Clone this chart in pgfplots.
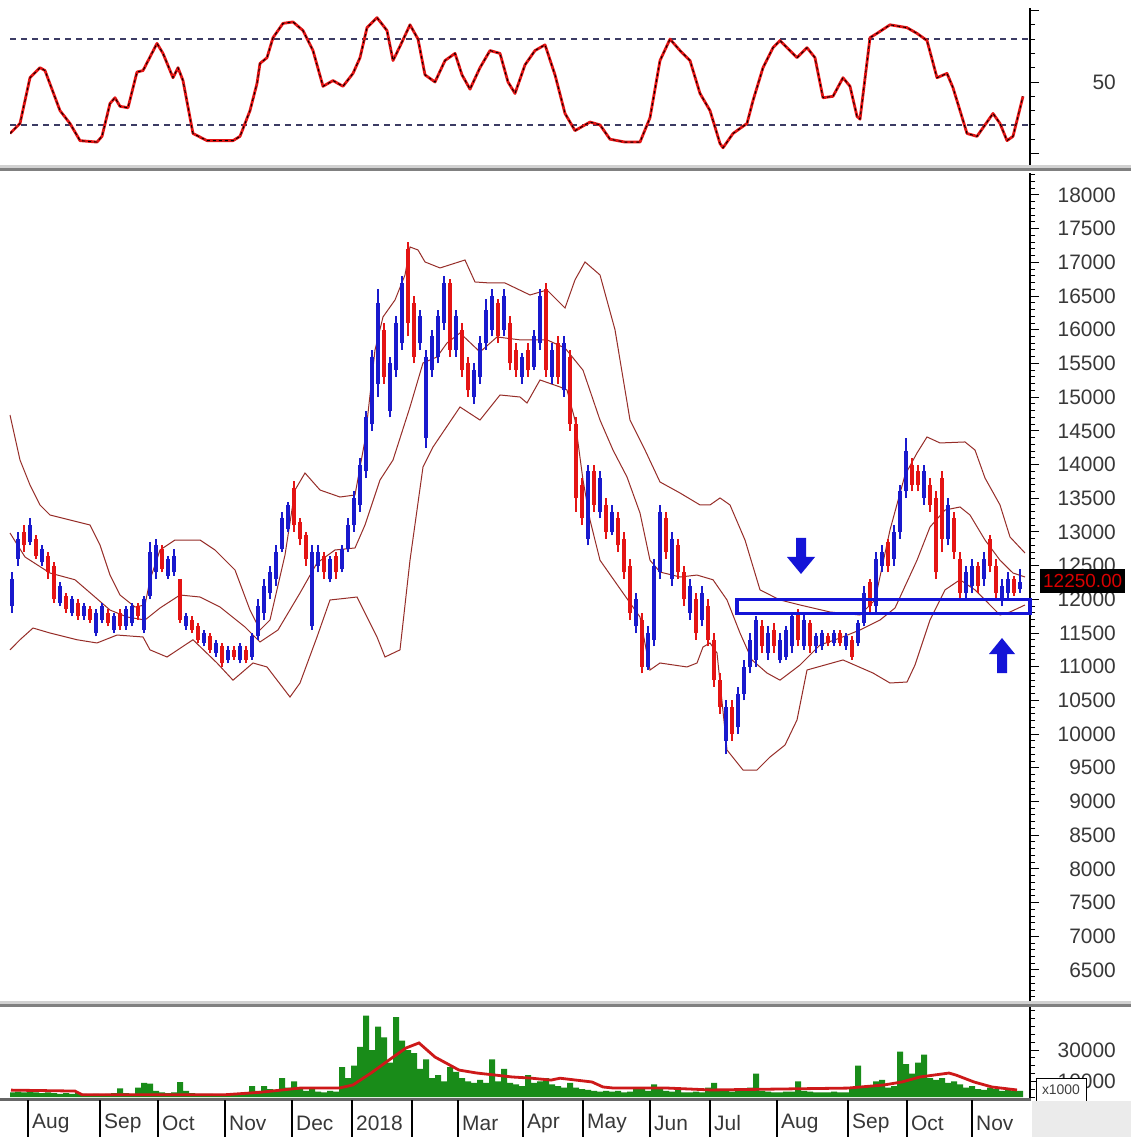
\documentclass[border=0pt]{standalone}
\usepackage{pgfplots}
\pgfplotsset{compat=1.18}
\usepackage{pgfplotstable}
\usepackage{fontspec}
\setmainfont{Liberation Sans}
\definecolor{cblue}{RGB}{25,25,205}
\definecolor{cred}{RGB}{228,20,20}
\definecolor{band}{RGB}{150,45,40}
\definecolor{vgreen}{RGB}{25,140,25}
\definecolor{mared}{RGB}{205,25,25}
\definecolor{dashc}{RGB}{60,60,100}
\definecolor{boxblue}{RGB}{20,20,215}
\pgfplotsset{panel/.style={scale only axis, width=1020bp, xmin=10, xmax=1030,
  axis x line=none, axis y line*=right, tick align=outside,
  major tick length=9bp, minor tick length=5bp,
  every tick/.style={black, line width=1bp},
  axis line style={black, line width=1.6bp},
  scaled y ticks=false,
  yticklabel style={font=\fontsize{21}{21}\selectfont, text=black!78, anchor=east, inner sep=0pt, xshift=77bp},
  /pgf/number format/1000 sep={}, /pgf/number format/assume math mode=true}}

\pgfplotstableread{
x lo hi op cl
12 11800 12400 11900 12300
18 12500 13000 12600 12900
30 12800 13200 12850 13100
42 12500 12800 12550 12750
60 11900 12250 11950 12200
72 11750 12050 11800 12000
84 11700 11950 11750 11900
96 11450 11850 11500 11800
102 11650 11950 11700 11900
114 11500 11800 11550 11750
126 11550 11900 11600 11850
132 11600 11950 11650 11900
144 11500 12050 11550 12000
150 12000 12850 12050 12700
156 12300 12900 12400 12800
168 12300 12650 12350 12600
174 12350 12750 12400 12650
186 11550 11800 11600 11750
204 11300 11550 11350 11500
216 11150 11400 11200 11350
228 11050 11300 11100 11250
240 11050 11350 11100 11300
252 11100 11500 11150 11450
258 11400 12000 11450 11900
264 11700 12300 11800 12200
270 12000 12500 12100 12400
276 12200 12800 12300 12700
282 12700 13300 12750 13200
288 13000 13450 13050 13400
312 11550 12800 11600 12700
318 12400 12800 12500 12700
330 12250 12650 12300 12600
342 12400 12800 12450 12750
348 12700 13200 12750 13100
354 13000 13600 13100 13500
360 13300 14100 13400 14000
366 13800 14800 13900 14700
372 14500 15700 14600 15600
378 15000 16600 15200 16400
390 14700 15600 14800 15500
396 15300 16200 15400 16100
402 15700 16800 15800 16700
420 15700 16300 15800 16200
426 14250 15700 14400 15600
432 15300 16000 15400 15900
438 15500 16300 15600 16200
444 16000 16800 16100 16700
456 15600 16300 15700 16200
474 14900 15500 15000 15400
480 15200 15900 15300 15800
486 15700 16450 15800 16300
492 15900 16600 16000 16500
504 15900 16600 16000 16500
522 15200 15650 15300 15600
534 15400 16000 15450 15900
540 15700 16600 15800 16500
552 15200 15800 15300 15700
564 15000 15900 15100 15800
588 12800 14000 12900 13900
600 13200 13900 13300 13800
612 12950 13400 13000 13300
636 11500 12100 11600 12000
648 10950 11600 11000 11500
654 11300 12600 11400 12500
660 12300 13400 12400 13300
672 12200 13000 12300 12900
690 11700 12300 11800 12200
702 11600 12200 11700 12100
726 9700 10500 9900 10400
738 10000 10700 10100 10600
744 10500 11100 10600 11000
750 10900 11500 11000 11400
756 11000 11750 11100 11700
768 11100 11600 11200 11500
780 11050 11500 11100 11400
786 11100 11600 11150 11550
792 11200 11800 11300 11750
804 11250 11800 11300 11700
816 11200 11500 11300 11450
822 11250 11550 11300 11500
834 11300 11550 11350 11500
846 11250 11500 11300 11450
858 11300 11700 11350 11650
864 11600 12200 11650 12100
876 11800 12700 11900 12600
882 12400 12800 12500 12700
894 12500 13100 12600 13000
900 12900 13700 13000 13600
906 13500 14400 13600 14200
924 13400 14000 13500 13900
948 12800 13500 12900 13400
966 12000 12500 12100 12400
972 12100 12600 12200 12500
984 12200 12700 12300 12600
1002 11900 12300 12000 12200
1008 12000 12400 12100 12300
1020 12100 12450 12150 12250
}\upbars

\pgfplotstableread{
x lo hi op cl
24 12700 13100 13000 12800
36 12600 12950 12900 12650
48 12300 12700 12650 12400
54 11950 12550 12500 12000
66 11800 12100 12050 11850
78 11700 12000 11950 11750
90 11650 11900 11850 11700
108 11600 11850 11800 11650
120 11550 11850 11800 11600
138 11700 11950 11900 11750
162 12400 12800 12750 12450
180 11650 12300 12300 11700
192 11500 11750 11700 11550
198 11350 11650 11600 11400
210 11200 11500 11450 11250
222 11000 11350 11300 11050
234 11100 11300 11250 11150
246 11050 11300 11250 11100
294 13000 13750 13650 13100
300 12800 13200 13150 12900
306 12500 13000 12950 12600
324 12300 12700 12650 12400
336 12300 12700 12650 12400
384 15200 16100 16000 15300
408 15900 17300 17200 16100
414 15500 16500 16400 15600
450 15600 16750 16700 15700
462 15300 16100 16000 15400
468 15000 15600 15500 15100
498 15800 16450 16400 15900
510 15400 16200 16100 15500
516 15300 15800 15700 15400
528 15300 15800 15700 15400
546 15300 16700 16600 15400
558 15200 15900 15800 15300
570 14500 15700 15600 14600
576 13300 14700 14600 13500
582 13100 13800 13700 13200
594 13300 14000 13900 13400
606 12900 13500 13400 13000
618 12700 13300 13200 12800
624 12300 13000 12900 12400
630 11700 12600 12500 11800
642 10900 11800 11700 11000
666 12600 13300 13200 12700
678 12300 12900 12800 12400
684 11900 12500 12400 12000
696 11400 12100 12000 11500
708 11300 12000 11900 11400
714 10700 11500 11400 10800
720 10300 10900 10800 10400
732 9900 10500 10400 10000
762 11200 11700 11600 11300
774 11200 11650 11550 11300
798 11300 11850 11800 11400
810 11200 11700 11650 11300
828 11300 11500 11450 11350
840 11300 11550 11500 11350
852 11100 11450 11400 11150
870 11800 12300 12250 11900
888 12400 12900 12850 12500
912 13600 14100 14000 13700
918 13600 14000 13900 13700
930 13300 13800 13700 13400
936 12300 13600 13500 12400
942 12700 13900 13800 12900
954 12600 13300 13200 12700
960 12000 12700 12600 12100
978 12100 12550 12500 12200
990 12400 12950 12900 12500
996 12000 12600 12500 12100
1014 12050 12350 12300 12100
}\downbars

\pgfplotstableread{
x v
10 14735
20 14067
30 13696
40 13400
50 13251
70 13177
90 13103
100 12806
110 12361
120 12064
135 11886
145 11916
150 12290
160 12732
175 12880
200 12880
215 12732
235 12435
250 11841
260 11545
270 11693
285 12658
295 13622
305 13874
320 13622
340 13518
355 13548
365 14364
375 15700
383 16190
395 16442
405 16813
410 17228
418 17184
425 17006
440 16917
465 17035
475 16709
490 16694
505 16694
530 16516
547 16590
565 16323
575 16740
585 17006
600 16813
615 16000
630 14660
645 14215
660 13741
680 13578
700 13400
710 13400
720 13504
730 13400
745 12880
760 12140
780 11990
800 11916
830 11812
860 11767
875 11990
890 13030
905 13845
917 14171
927 14409
940 14320
965 14335
975 14215
985 13800
1000 13400
1010 12925
1025 12687
}\bbup

\pgfplotstableread{
x v
10 12984
25 12628
50 12390
75 12290
95 12034
110 11841
127 11738
145 11693
160 11871
180 12064
200 12034
220 11886
245 11589
260 11367
278 11545
300 12094
317 12539
335 12732
355 12762
365 13103
380 13770
393 14067
410 14854
423 15507
437 15596
447 15804
460 15952
480 15670
497 15893
520 15850
547 15850
565 15729
583 15400
600 14660
613 14215
627 13815
640 13281
650 12580
660 12405
680 12331
697 12360
713 12290
727 11990
740 11500
752 11100
767 10906
780 10800
800 11025
820 11322
840 11426
860 11545
880 11693
895 11871
917 12580
930 13073
945 13325
960 13370
970 13251
985 12880
1000 12580
1013 12390
1025 12331
}\bbmid

\pgfplotstableread{
x v
10 11250
20 11400
33 11574
50 11500
77 11400
97 11352
117 11470
143 11441
150 11250
167 11144
193 11400
217 11055
233 10800
253 11055
267 10996
290 10550
300 10758
317 11441
330 11990
357 12034
377 11441
385 11144
400 11250
410 12580
423 13964
433 14260
460 14854
480 14660
500 15032
520 15002
527 14913
540 15255
560 15151
567 15106
575 14660
583 13770
590 13177
600 12580
623 12094
640 11738
650 10951
660 11055
687 10996
697 11055
703 11292
710 11352
717 11203
727 9764
743 9467
757 9467
770 9660
785 9838
797 10210
807 10951
843 11100
873 10906
890 10758
907 10773
915 11025
930 11693
945 12140
960 12290
975 12140
990 11916
1000 11767
1010 11812
1025 11916
}\bblow

\pgfplotstableread{
x k
10 14
20 21
30 53
40 60
45 58
60 30
70 21
80 9
97 8
102 12
110 35
115 39
120 33
128 32
137 57
143 58
157 77
163 70
173 53
178 60
183 51
193 14
207 9
233 9
240 12
250 30
257 49
260 63
267 67
273 81
283 91
293 92
303 86
313 72
323 47
333 51
343 47
353 56
360 67
367 88
377 95
387 86
393 65
400 75
410 90
418 80
425 55
435 50
445 65
455 70
462 55
470 45
480 60
490 72
500 70
508 50
515 42
525 62
535 72
545 76
555 55
565 28
575 16
590 22
600 20
610 10
625 8
640 8
650 25
660 65
670 80
680 72
690 65
700 42
710 30
720 7
723 4
733 14
747 21
753 37
763 60
773 74
780 79
787 74
797 67
807 74
815 67
823 39
833 40
843 53
850 47
857 26
860 24
870 81
877 84
890 90
907 88
917 84
927 79
937 53
947 56
953 46
967 14
977 12
993 28
1000 21
1007 9
1013 12
1023 40
}\stoch

\pgfplotstableread{
x v
12 3000
18 3500
24 3000
30 4500
36 3000
42 2500
48 3000
54 2500
60 2000
66 2500
72 2000
78 2500
84 2000
90 1800
96 2000
102 1800
108 2000
114 2500
120 5500
126 2500
132 2000
138 6000
144 9000
150 8500
156 4000
162 3000
168 2500
174 3000
180 9500
186 4000
192 2500
198 2000
204 2000
210 2000
216 1800
222 1500
228 1800
234 2000
240 2500
246 3000
252 7000
258 4000
264 7000
270 5000
276 4500
282 12000
288 6000
294 10000
300 5000
306 4000
312 6000
318 3500
324 3000
330 4000
336 3500
342 19000
348 12000
354 20000
360 32000
366 52000
372 30000
378 45000
384 38000
390 22000
396 51000
402 36000
408 30000
414 28000
420 18000
426 24000
432 12000
438 14000
444 10000
450 19000
456 16000
462 12000
468 10000
474 9000
480 11000
486 9000
492 24000
498 10000
504 18000
510 9000
516 8000
522 7000
528 14000
534 9000
540 10000
546 12000
552 8000
558 7000
564 6000
570 9000
576 6000
582 5000
588 4500
594 4000
600 3500
606 4000
612 3500
618 4000
624 3000
630 3500
636 5000
642 6000
648 4000
654 8000
660 5000
666 4000
672 3500
678 6000
684 3000
690 3000
696 3500
702 3000
708 6000
714 9000
720 5000
726 4000
732 3500
738 5000
744 4000
750 6000
756 15000
762 4000
768 3500
774 3000
780 3000
786 3500
792 3500
798 10000
804 4000
810 3500
816 3000
822 3000
828 3000
834 3500
840 3000
846 3000
852 5000
858 20000
864 6000
870 7000
876 10000
882 11000
888 6000
894 7000
900 29000
906 21000
912 15000
918 22000
924 27000
930 12000
936 11000
942 12000
948 9000
954 10000
960 8000
966 6000
972 7000
978 5000
984 4500
990 6000
996 5000
1002 4000
1008 4500
1014 4000
1020 4000
}\vol

\pgfplotstableread{
x v
11 4400
75 3800
82 1500
226 1500
260 3000
300 5700
339 5700
353 7700
371 15300
389 23600
406 31300
419 34500
435 25500
459 17200
477 15300
512 12800
530 12100
551 10800
560 12000
592 9600
603 6400
614 5700
668 5700
711 4500
848 5700
884 7700
902 9600
920 12800
949 15300
956 14000
974 9600
992 6400
1017 4500
}\volma

\begin{document}
\begin{tikzpicture}[x=1bp,y=1bp]
\path[use as bounding box] (0,0) rectangle (1131,-1137);
\fill[white] (0,0) rectangle (1131,-1137);

% ---------- stochastic panel ----------
\begin{axis}[panel, at={(10bp,-8bp)}, anchor=north west, height=158bp,
  ymin=-8.74, ymax=101.75, ytick={0,50,100}, yticklabels={,50,},
  minor ytick={10,20,30,40,60,70,80,90}]
\addplot[dashc, line width=1.3bp, dash pattern=on 6bp off 5bp] coordinates {(10,80) (1030,80)};
\addplot[dashc, line width=1.3bp, dash pattern=on 6bp off 5bp] coordinates {(10,20) (1030,20)};
\addplot[cred, line width=2.8bp, line join=round] table[x=x,y=k] {\stoch};
\addplot[black, line width=0.9bp, dash pattern=on 3bp off 3bp] table[x=x,y=k] {\stoch};
\end{axis}

% ---------- price panel ----------
\begin{axis}[panel, at={(10bp,-173bp)}, anchor=north west, height=828bp,
  ymin=6039, ymax=18326, ytick={6500,7000,...,18000},
  minor ytick={6100,6200,...,18300}, clip=false]
\addplot[band, line width=1bp] table[x=x,y=v] {\bbup};
\addplot[band, line width=1bp] table[x=x,y=v] {\bbmid};
\addplot[band, line width=1bp] table[x=x,y=v] {\bblow};
% wicks (quiver from low to high)
\addplot[cblue, line width=1.1bp, mark=none, forget plot,
  quiver={u=0, v=\thisrow{hi}-\thisrow{lo}}] table[x=x, y=lo] {\upbars};
\addplot[cred, line width=1.1bp, mark=none, forget plot,
  quiver={u=0, v=\thisrow{hi}-\thisrow{lo}}] table[x=x, y=lo] {\downbars};
% bodies (error bars from open to close)
\addplot[only marks, mark=*, mark size=0pt, forget plot,
  error bars/.cd, y dir=plus, y explicit, error mark=none,
  error bar style={draw=cblue, line width=3.4bp}]
  table[x=x, y=op, y error expr=\thisrow{cl}-\thisrow{op}] {\upbars};
\addplot[only marks, mark=*, mark size=0pt, forget plot,
  error bars/.cd, y dir=plus, y explicit, error mark=none,
  error bar style={draw=cred, line width=3.4bp}]
  table[x=x, y=cl, y error expr=\thisrow{op}-\thisrow{cl}] {\downbars};
% support zone and arrows
\draw[boxblue, line width=3.4bp] (axis cs:737,12000) rectangle (axis cs:1030,11790);
\fill[boxblue] (axis cs:796,12910) -- (axis cs:806,12910) -- (axis cs:806,12628) -- (axis cs:815,12628)
  -- (axis cs:801,12376) -- (axis cs:787,12628) -- (axis cs:796,12628) -- cycle;
\fill[boxblue] (axis cs:997,10906) -- (axis cs:1007,10906) -- (axis cs:1007,11188) -- (axis cs:1015,11188)
  -- (axis cs:1002,11426) -- (axis cs:989,11188) -- (axis cs:997,11188) -- cycle;
\end{axis}
% last price box
\fill[black] (1040,-569) rectangle (1125,-593);
\node[anchor=west, inner sep=0pt, text=red!85!black, font=\fontsize{19}{19}\selectfont] at (1043,-581) {12250.00};

% ---------- volume panel ----------
\begin{axis}[panel, at={(10bp,-1007bp)}, anchor=north west, height=91bp,
  ymin=-640, ymax=57430, ytick={10000,30000},
  minor ytick={0,5000,...,55000}]
\addplot[ybar, bar width=6bp, fill=vgreen, draw=none] table[x=x,y=v] {\vol};
\addplot[mared, line width=2.8bp] table[x=x,y=v] {\volma};
\end{axis}
\draw[black, fill=white, line width=1bp] (1036,-1101) rectangle (1086,-1078);
\node[font=\fontsize{14}{14}\selectfont, text=black!75, inner sep=0pt] at (1061,-1090) {x1000};

% ---------- separators ----------
\fill[black!18] (0,-165) rectangle (1131,-167.5);
\fill[black!50] (0,-167.5) rectangle (1131,-171);
\fill[black!18] (0,-1001) rectangle (1131,-1003.5);
\fill[black!50] (0,-1003.5) rectangle (1131,-1007);
\fill[black!60] (0,-1098) rectangle (1031,-1100.5);
\fill[black!8] (1032,-1101) rectangle (1131,-1137);

% ---------- month axis ----------
\foreach \xx/\lab in {28/Aug,100/Sep,158/Oct,225/Nov,292/Dec,352/2018,412/{},458/Mar,523/Apr,583/May,650/Jun,710/Jul,777/Aug,848/Sep,907/Oct,972/Nov}{
  \draw[black, line width=1.2bp] (\xx,-1100) -- (\xx,-1137);
  \node[anchor=west, inner sep=0pt, font=\fontsize{21}{21}\selectfont, text=black!78] at (\xx+4,-1123) {\lab};
}
\end{tikzpicture}
\end{document}
